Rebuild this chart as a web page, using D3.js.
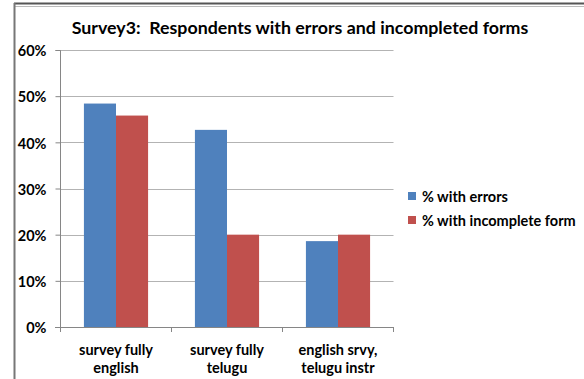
<!DOCTYPE html>
<html><head><meta charset="utf-8">
<script src="https://cdn.jsdelivr.net/npm/d3@7"></script>
<style>
body{margin:0;background:#fff;}
text{font-family:Lato,"Open Sans",sans-serif;font-weight:bold;fill:#000;white-space:pre;}
</style></head><body>
<svg id="c" width="584" height="379"></svg>
<script>
const categories = [["survey fully","english"],["survey fully","telugu"],["english srvy,","telugu instr"]];
const seriesNames = ["% with errors","% with incomplete form"];
const errors = [0.484, 0.427, 0.186];
const incomplete = [0.458, 0.200, 0.200];
const yTicks = [0,0.1,0.2,0.3,0.4,0.5,0.6];
const title = "Survey3:  Respondents with errors and incompleted forms";
const colors = ["#4f81bd","#c0504d"];

const svg = d3.select("#c");
// frame
svg.append("line").attr("x1",14).attr("x2",584).attr("y1",3.5).attr("y2",3.5).attr("stroke","#555").attr("stroke-width",2);
svg.append("line").attr("x1",15).attr("x2",584).attr("y1",6.5).attr("y2",6.5).attr("stroke","#bbb").attr("stroke-width",1);
svg.append("line").attr("x1",14.5).attr("x2",14.5).attr("y1",3).attr("y2",379).attr("stroke","#777").attr("stroke-width",2);

const x0 = d3.scaleBand().domain(d3.range(categories.length)).range([60.5,393.5]).paddingInner(0).paddingOuter(0);
const x1 = d3.scaleBand().domain([0,1]).range([0,x0.bandwidth()]).paddingInner(0).paddingOuter(0.73);
const y = d3.scaleLinear().domain([0,0.6]).range([327,50]);

// gridlines
svg.append("g").selectAll("line").data(yTicks.slice(1)).join("line")
 .attr("x1",60).attr("x2",393.5).attr("y1",d=>Math.round(y(d))+0.5).attr("y2",d=>Math.round(y(d))+0.5)
 .attr("stroke","#b3b3b3");

// bars
const data = categories.map((c,i)=>[errors[i],incomplete[i]]);
const g = svg.append("g");
data.forEach((vals,i)=>{
  g.selectAll(null).data(vals).join("rect")
   .attr("x",(d,j)=>x0(i)+x1(j)).attr("width",x1.bandwidth())
   .attr("y",d=>y(d)).attr("height",d=>y(0)-y(d))
   .attr("fill",(d,j)=>colors[j]);
});

// y axis
const ya = d3.axisLeft(y).tickValues(yTicks).tickFormat(d3.format(".0%")).tickSize(5).tickPadding(8);
const yg = svg.append("g").attr("transform","translate(60.5,0)").call(ya);
yg.select(".domain").attr("stroke","#868686").attr("d","M-5,50.5H0V327");
yg.selectAll(".tick line").attr("stroke","#868686");
yg.selectAll(".tick text").style("font-size","14.5px").attr("x",-14).attr("dy","0.4em");

// x axis
const xg = svg.append("g");
xg.append("line").attr("x1",55).attr("x2",393.5).attr("y1",327.5).attr("y2",327.5).attr("stroke","#868686");
const bounds = d3.range(categories.length+1).map(i=> i<categories.length ? x0(i) : x0(i-1)+x0.bandwidth());
xg.selectAll("line.t").data(bounds).join("line").attr("class","t")
 .attr("x1",d=>d).attr("x2",d=>d).attr("y1",327).attr("y2",332).attr("stroke","#868686");
categories.forEach((c,i)=>{
  const t = xg.append("text").attr("text-anchor","middle").style("font-size","14.5px");
  c.forEach((ln,k)=>t.append("tspan").attr("x",x0(i)+x0.bandwidth()/2).attr("y",355+k*18).text(ln));
});

// title
svg.append("text").attr("x",300).attr("y",34).attr("text-anchor","middle").style("font-size","17.8px").text(title);

// legend
seriesNames.forEach((n,i)=>{
  svg.append("rect").attr("x",408).attr("y",192+i*24).attr("width",8).attr("height",8).attr("fill",colors[i]);
  svg.append("text").attr("x",422).attr("y",201.5+i*24).style("font-size","14.5px").text(n);
});
</script></body></html>
